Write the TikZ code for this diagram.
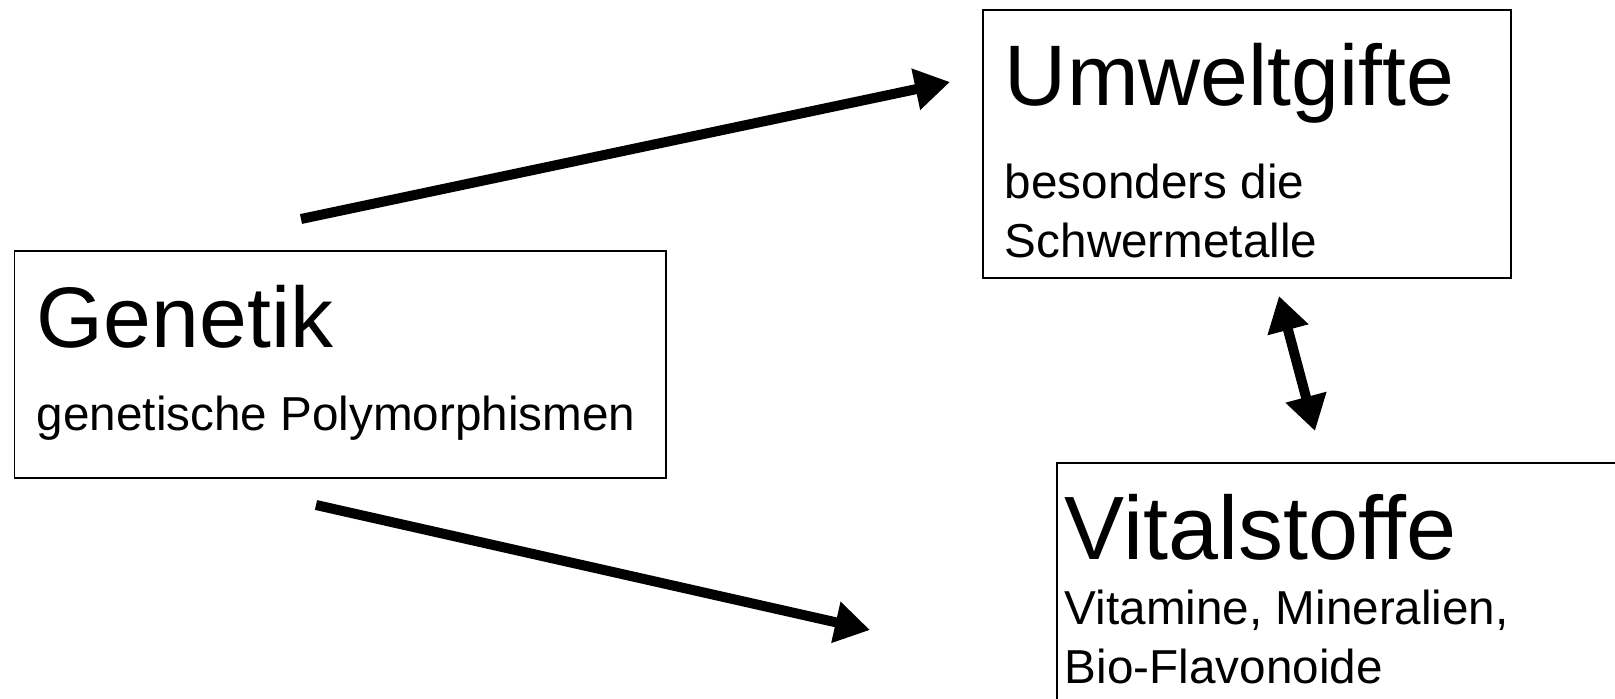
\documentclass[tikz,border=0pt]{standalone}
\usepackage{fontspec}
\setmainfont{Liberation Sans}
\usetikzlibrary{arrows.meta, positioning}
\tikzset{
  every picture/.style={line width=1.1pt},
  box/.style={draw=black, rectangle, inner sep=0pt, anchor=north west},
  title/.style={font=\fontsize{48.9}{58}\selectfont, anchor=base west, inner sep=0pt},
  note/.style={font=\fontsize{27.1}{33.4}\selectfont, anchor=base west, inner sep=0pt, align=left},
  arrow/.style={-{Triangle[length=0.7cm, width=0.8cm]}, line width=0.2cm},
}

\begin{document}
\begin{tikzpicture}
  \useasboundingbox (0,0) rectangle (32.3,13.96);
  % boxes
  \node[box, minimum width=13.03cm, minimum height=4.54cm] (gen) at (0.27,8.96) {};
  \node[box, minimum width=10.56cm, minimum height=5.36cm] (umw) at (19.64,13.78) {};
  \node[box, minimum width=12cm, minimum height=5cm] (vit) at (21.12,4.72) {};
  % texts (base of a two-line note is its last line)
  \node[title] (gentitle) at (0.72,7.02) {Genetik};
  \node[note] (gennote) at (0.72,5.36) {genetische Polymorphismen};
  \node[title] (umwtitle) at (20.08,11.84) {Umweltgifte};
  \node[note] (umwnote) at (20.08,8.81) {besonders die\\Schwermetalle};
  \node[title, font=\fontsize{51.2}{60}\selectfont] (vittitle) at (21.28,2.78) {Vitalstoffe};
  \node[note] (vitnote) at (21.28,0.3) {Vitamine, Mineralien,\\Bio-Flavonoide};
  % arrows
  \coordinate (a1s) at (6.02,9.58);
  \coordinate (a1e) at (19.0,12.32);
  \coordinate (a2s) at (6.32,3.86);
  \coordinate (a2e) at (17.4,1.36);
  \coordinate (a3s) at (25.58,8.04);
  \coordinate (a3e) at (26.3,5.34);
  \draw[arrow] (a1s) -- (a1e);
  \draw[arrow] (a2s) -- (a2e);
  \draw[arrow, {Triangle[length=0.7cm, width=0.8cm]}-{Triangle[length=0.7cm, width=0.8cm]}] (a3s) -- (a3e);
\end{tikzpicture}
\end{document}
